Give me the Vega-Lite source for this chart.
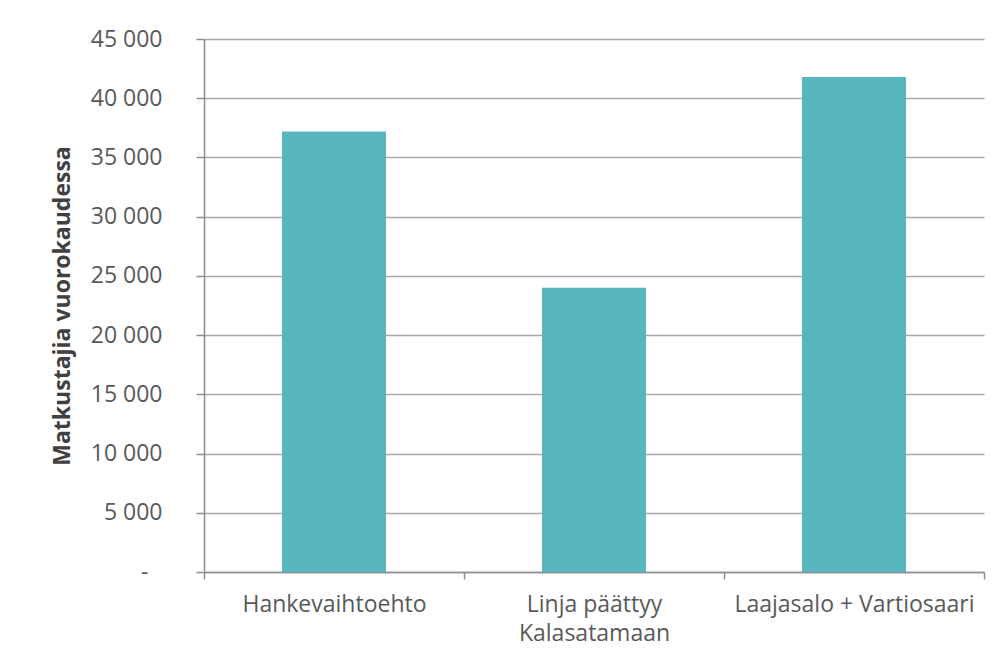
{
  "$schema": "https://vega.github.io/schema/vega-lite/v6.json",
  "autosize": {"type": "none"},
  "padding": {"left": 204, "top": 39, "right": 17, "bottom": 94},
  "width": 780,
  "height": 533,
  "background": "white",
  "config": {
    "view": {"stroke": null},
    "font": "Open Sans"
  },
  "data": {
    "values": [
      {"vaihtoehto": "Hankevaihtoehto", "matkustajia": 37200},
      {"vaihtoehto": "Linja päättyy\nKalasatamaan", "matkustajia": 24000},
      {"vaihtoehto": "Laajasalo + Vartiosaari", "matkustajia": 41800}
    ]
  },
  "mark": {"type": "bar", "color": "#57b5bf", "width": {"band": 0.4}},
  "encoding": {
    "x": {
      "field": "vaihtoehto",
      "type": "nominal",
      "sort": null,
      "scale": {"paddingInner": 0, "paddingOuter": 0},
      "axis": {
        "title": null,
        "labelAngle": 0,
        "labelExpr": "split(datum.label, '\\n')",
        "labelFont": "Open Sans",
        "labelFontSize": 23,
        "labelColor": "#595959",
        "labelLineHeight": 29,
        "labelLimit": 400,
        "labelPadding": 14,
        "labelBaseline": "top",
        "tickBand": "extent",
        "tickSize": 7,
        "tickColor": "#8c8c8c",
        "tickWidth": 1.5,
        "domainColor": "#8c8c8c",
        "domainWidth": 1.5,
        "grid": false
      }
    },
    "y": {
      "field": "matkustajia",
      "type": "quantitative",
      "scale": {"domain": [0, 45000], "nice": false},
      "axis": {
        "title": "Matkustajia vuorokaudessa",
        "titleFont": "Open Sans",
        "titleFontSize": 23,
        "titleFontWeight": "bold",
        "titleColor": "#404040",
        "titlePadding": 16,
        "values": [0, 5000, 10000, 15000, 20000, 25000, 30000, 35000, 40000, 45000],
        "labelExpr": "datum.value == 0 ? '-' : replace(format(datum.value, ','), ',', ' ')",
        "labelFont": "Open Sans",
        "labelFontSize": 23,
        "labelColor": "#595959",
        "labelLimit": 300,
        "labelPadding": {"condition": {"test": "datum.value == 0", "value": 48}, "value": 34},
        "tickSize": 8,
        "tickColor": "#8c8c8c",
        "tickWidth": 1.5,
        "domainColor": "#8c8c8c",
        "domainWidth": 1.5,
        "grid": true,
        "gridColor": "#a6a6a6",
        "gridWidth": 1.5
      }
    }
  }
}
